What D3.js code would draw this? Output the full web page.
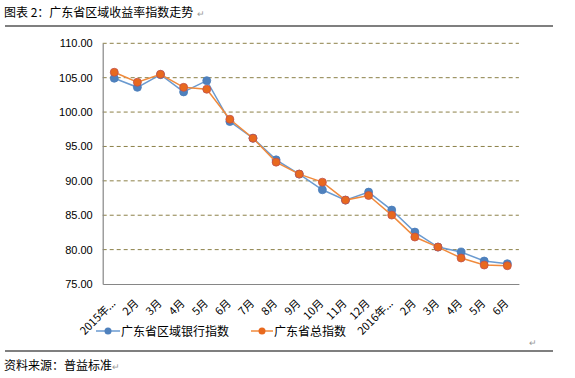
<!DOCTYPE html>
<html><head><meta charset="utf-8">
<script src="https://cdn.jsdelivr.net/npm/d3@7/dist/d3.min.js"></script>
<style>
body{margin:0;background:#fff;}
svg{display:block;}
</style></head>
<body>
<svg id="c" width="575" height="378"></svg>
<script>
const categories = ["2015年...","2月","3月","4月","5月","6月","7月","8月","9月","10月","11月","12月","2016年...","2月","3月","4月","5月","6月"];
const bankIndex = [104.92,103.60,105.44,102.93,104.57,98.62,96.20,93.05,90.98,88.70,87.20,88.36,85.75,82.55,80.37,79.65,78.34,77.95];
const totalIndex = [105.79,104.34,105.50,103.60,103.32,98.96,96.20,92.72,90.98,89.81,87.20,87.87,85.02,81.83,80.37,78.78,77.76,77.66];
const yTicks = [75,80,85,90,95,100,105,110];
const seriesNames = ["广东省区域银行指数","广东省总指数"];
const title = "图表 2：广东省区域收益率指数走势";
const source = "资料来源：普益标准";

const svg = d3.select("#c");
const cjk = "'Noto Sans CJK SC','Noto Sans',sans-serif";
const numFont = "'Liberation Sans',Arial,sans-serif";

// title & rules
svg.append("text").attr("x",4).attr("y",17).attr("font-family",cjk).attr("font-size",12).attr("fill","#000").text(title);
svg.append("text").attr("x",197).attr("y",17).attr("font-family",cjk).attr("font-size",9).attr("fill","#999").text("↵");
svg.append("line").attr("x1",5).attr("x2",553).attr("y1",26).attr("y2",26).attr("stroke","#000").attr("stroke-width",1.2);
svg.append("line").attr("x1",5).attr("x2",553).attr("y1",351).attr("y2",351).attr("stroke","#000").attr("stroke-width",1.2);
svg.append("text").attr("x",4).attr("y",370).attr("font-family",cjk).attr("font-size",12).attr("fill","#000").text(source);
svg.append("text").attr("x",112).attr("y",370).attr("font-family",cjk).attr("font-size",9).attr("fill","#999").text("↵");
svg.append("text").attr("x",529).attr("y",346).attr("font-family",cjk).attr("font-size",9).attr("fill","#999").text("↵");

const x = d3.scaleBand().domain(d3.range(categories.length)).range([102.7,518.9]);
const y = d3.scaleLinear().domain([75,110]).range([284,43.3]);
const cx = i => x(i)+x.bandwidth()/2;

// gridlines
svg.append("g").selectAll("line").data(yTicks.filter(t=>t>75)).join("line")
  .attr("x1",102.7).attr("x2",518.9).attr("y1",d=>y(d)).attr("y2",d=>y(d))
  .attr("stroke","#8c8048").attr("stroke-width",1).attr("stroke-dasharray","4,3");

// y axis
const yAxis = d3.axisLeft(y).tickValues(yTicks).tickFormat(d3.format(".2f")).tickSize(0).tickPadding(10);
const gy = svg.append("g").attr("transform","translate(102.7,0)").call(yAxis);
gy.select(".domain").attr("stroke","#868686").attr("stroke-width",1.2);
gy.selectAll("text").attr("font-family",numFont).attr("font-size",11).attr("fill","#000");

// x axis
const xAxis = d3.axisBottom(x).tickSize(0).tickFormat(i=>categories[i]);
const gx = svg.append("g").attr("transform","translate(0,284)").call(xAxis);
gx.select(".domain").attr("stroke","#868686").attr("stroke-width",1.2);
gx.selectAll(".tick text").attr("font-family",cjk).attr("font-size",11).attr("fill","#000")
  .attr("text-anchor","end").attr("dy",0).attr("y",0)
  .attr("transform","translate(2,20) rotate(-45)");

// series
const line = d3.line().x((d,i)=>cx(i)).y(d=>y(d));
[bankIndex,totalIndex].forEach((s,k)=>{
  svg.append("path").datum(s).attr("d",line).attr("fill","none").attr("stroke",k?"#F08A3C":"#6A9AD0").attr("stroke-width",1.5);
  svg.append("g").selectAll("circle").data(s).join("circle")
    .attr("cx",(d,i)=>cx(i)).attr("cy",d=>y(d)).attr("r",4)
    .attr("fill",k?"#E8691E":"#4F81BD").attr("stroke",k?"#C0504D":"#4A7EBB").attr("stroke-width",0.8);
});

// legend
const leg = [{x1:96,x2:120,t:121},{x1:251,x2:273,t:274}];
leg.forEach((l,k)=>{
  svg.append("line").attr("x1",l.x1).attr("x2",l.x2).attr("y1",331).attr("y2",331).attr("stroke",k?"#F08A3C":"#6A9AD0").attr("stroke-width",1.5);
  svg.append("circle").attr("cx",(l.x1+l.x2)/2).attr("cy",331).attr("r",3.5).attr("fill",k?"#E8691E":"#4F81BD");
  svg.append("text").attr("x",l.t).attr("y",335.5).attr("font-family",cjk).attr("font-size",12).attr("fill","#000").text(seriesNames[k]);
});
</script>
</body></html>
